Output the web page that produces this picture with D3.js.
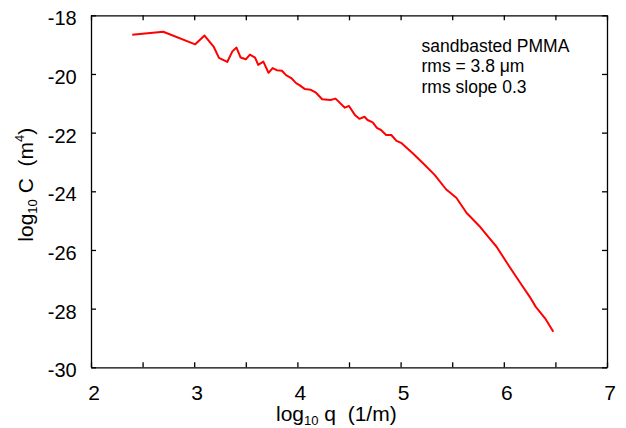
<!DOCTYPE html>
<html>
<head>
<meta charset="utf-8">
<script src="https://cdn.jsdelivr.net/npm/d3@7"></script>
<style>
  body { margin: 0; background: #fff; }
  svg { display: block; font-family: "Liberation Sans", Arial, sans-serif; }
  svg text { white-space: pre; }
  .axis path, .axis line { stroke: #000; stroke-width: 1.3px; fill: none; }
  .curve { fill: none; stroke: #ff0000; stroke-width: 2px; stroke-linejoin: round; }
</style>
</head>
<body>
<svg width="626" height="428"></svg>
<script>
var width = 626,
    height = 428;

// log10 q (1/m)
var logQ = [
  2.40, 2.70, 3.01, 3.10, 3.19, 3.24, 3.32, 3.37, 3.41, 3.45,
  3.50, 3.54, 3.59, 3.62, 3.67, 3.72, 3.76, 3.80, 3.85, 3.89,
  3.94, 3.99, 4.02, 4.07, 4.13, 4.18, 4.24, 4.32, 4.37, 4.46,
  4.50, 4.56, 4.60, 4.65, 4.68, 4.73, 4.77, 4.81, 4.86, 4.91,
  4.96, 5.01, 5.12, 5.22, 5.33, 5.44, 5.54, 5.64, 5.77, 5.86,
  5.93, 6.06, 6.18, 6.25, 6.31, 6.40, 6.48
];

// log10 C (m^4)
var logC = [
  -18.66, -18.56, -18.99, -18.69, -19.08, -19.45, -19.59, -19.23, -19.10, -19.44,
  -19.50, -19.34, -19.44, -19.69, -19.58, -19.96, -19.80, -19.87, -19.89, -20.04,
  -20.14, -20.32, -20.38, -20.51, -20.54, -20.64, -20.86, -20.89, -20.84, -21.15,
  -21.09, -21.41, -21.53, -21.46, -21.57, -21.65, -21.84, -21.91, -22.08, -22.08,
  -22.28, -22.36, -22.71, -23.05, -23.44, -23.93, -24.22, -24.74, -25.21, -25.60,
  -25.89, -26.60, -27.23, -27.59, -27.94, -28.33, -28.79
];

var xTicks = [2, 2.5, 3, 3.5, 4, 4.5, 5, 5.5, 6, 6.5, 7];
var yTicks = [-30, -28, -26, -24, -22, -20, -18];
var notes = ["sandbasted PMMA", "rms = 3.8 \u03bcm", "rms slope 0.3"];

var margin = {left: 91, right: 19, top: 15.3, bottom: 60.7};
var w = width - margin.left - margin.right,
    h = height - margin.top - margin.bottom;

var x = d3.scaleLinear().domain([2, 7]).range([0, w]);
var y = d3.scaleLinear().domain([-30, -18]).range([h, 0]);

var svg = d3.select("svg");
var g = svg.append("g")
    .attr("transform", "translate(" + margin.left + "," + margin.top + ")");

// axes, ticks pointing inward; plain hyphen for the minus sign
var intFmt = function(d) { return d % 1 === 0 ? String(d) : ""; };

g.append("g")
    .attr("class", "axis")
    .attr("transform", "translate(0," + h + ")")
    .call(d3.axisBottom(x).tickValues(xTicks).tickSizeInner(-5).tickSizeOuter(0)
      .tickPadding(17.5).tickFormat(intFmt))
  .selectAll("text")
    .attr("dx", 2.5)
    .style("font-size", "21px")
    .attr("fill", "#000");

g.append("g")
    .attr("class", "axis")
    .call(d3.axisTop(x).tickValues(xTicks).tickSizeInner(-5).tickSizeOuter(0).tickFormat(""));

g.append("g")
    .attr("class", "axis")
    .call(d3.axisLeft(y).tickValues(yTicks).tickSizeInner(-5).tickSizeOuter(0)
      .tickPadding(14.3).tickFormat(function(d) { return String(d); }))
  .selectAll("text")
    .attr("dy", "0.48em")
    .style("font-size", "20px")
    .attr("fill", "#000");

g.append("g")
    .attr("class", "axis")
    .attr("transform", "translate(" + w + ",0)")
    .call(d3.axisRight(y).tickValues(yTicks).tickSizeInner(-5).tickSizeOuter(0).tickFormat(""));

// curve
var pts = logQ.map(function(q, i) { return [q, logC[i]]; });
var line = d3.line()
    .x(function(d) { return x(d[0]); })
    .y(function(d) { return y(d[1]); });

g.append("path")
    .datum(pts)
    .attr("class", "curve")
    .attr("d", line);

// annotation
svg.append("g").selectAll("text")
    .data(notes)
    .enter().append("text")
    .attr("x", 421.5)
    .attr("y", function(d, i) { return 51.7 + i * 20.4; })
    .style("font-size", "17.5px")
    .attr("fill", "#000")
    .text(function(d) { return d; });

// axis titles
var xt = svg.append("text")
    .attr("x", 276)
    .attr("y", 421)
    .style("font-size", "21px")
    .attr("fill", "#000");
xt.append("tspan").text("log");
xt.append("tspan").attr("dy", 4).style("font-size", "13px").text("10");
xt.append("tspan").attr("dy", -4).text(" q  (1/m)");

var yt = svg.append("text")
    .attr("transform", "translate(33,241.7) rotate(-90)")
    .attr("x", 0)
    .attr("y", 0)
    .style("font-size", "21px")
    .attr("fill", "#000");
yt.append("tspan").text("log");
yt.append("tspan").attr("dy", 4).style("font-size", "13px").text("10");
yt.append("tspan").attr("dy", -4).text(" C  (m");
yt.append("tspan").attr("dy", -9).style("font-size", "13px").text("4");
yt.append("tspan").attr("dy", 9).text(")");
</script>
</body>
</html>
